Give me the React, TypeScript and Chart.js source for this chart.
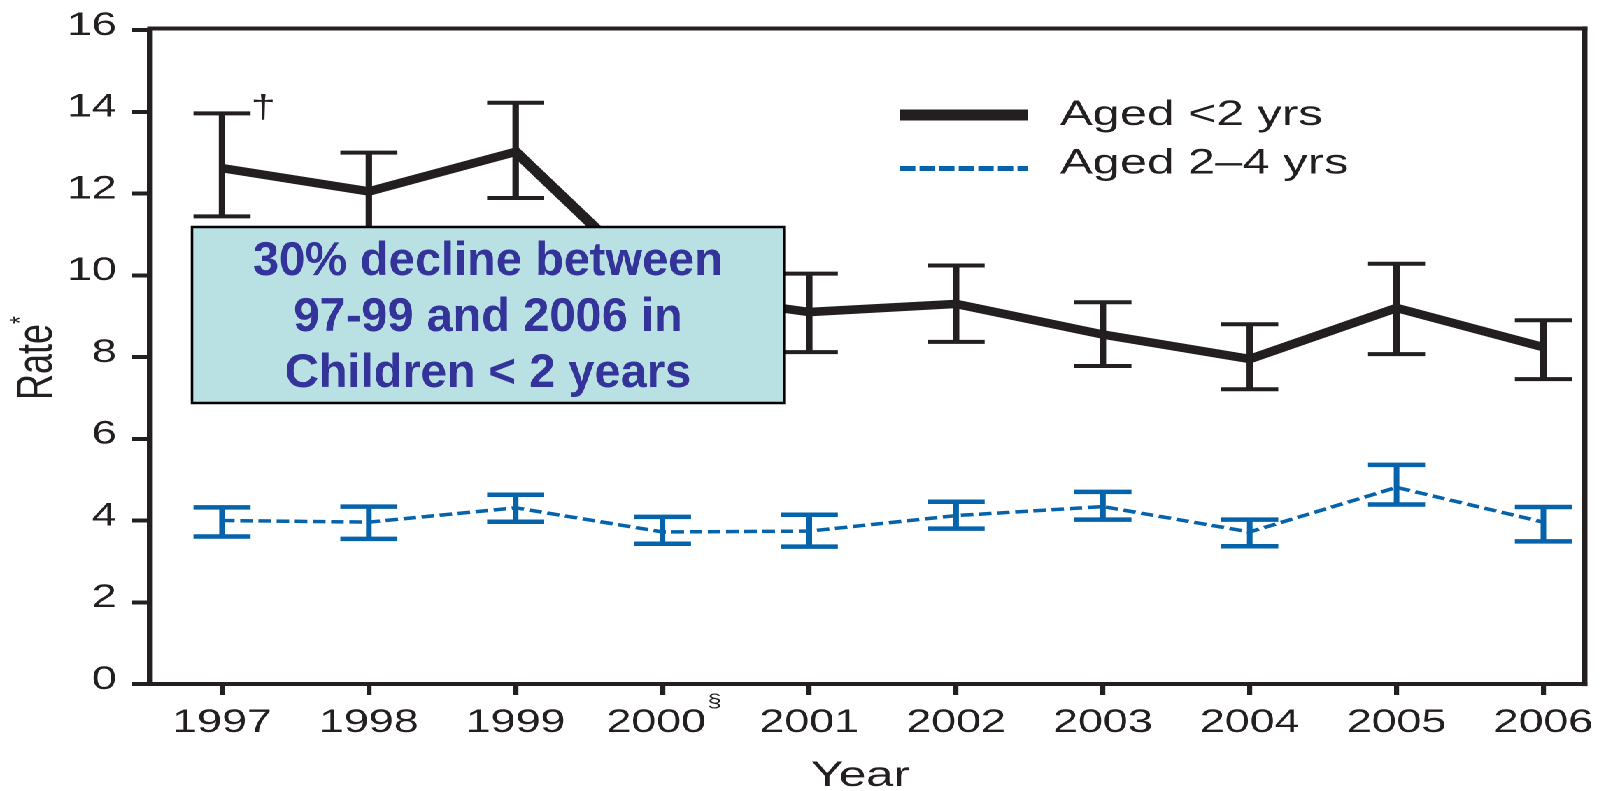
import { useEffect, useRef } from 'react';
import { Chart, registerables } from 'chart.js';

Chart.register(...registerables);

// ---- data ----
const years = [1997, 1998, 1999, 2000, 2001, 2002, 2003, 2004, 2005, 2006];
const xTickLabels = ['1997', '1998', '1999', '2000', '2001', '2002', '2003', '2004', '2005', '2006'];
const xTickMarks = ['', '', '', '§', '', '', '', '', '', ''];
const yTicks = [0, 2, 4, 6, 8, 10, 12, 14, 16];

const under2Label = 'Aged <2 yrs';
const under2Rate = [12.62, 12.05, 13.02, 9.6, 9.1, 9.3, 8.55, 7.95, 9.2, 8.24];
const under2Low = [11.44, 11.15, 11.89, 8.7, 8.12, 8.37, 7.78, 7.21, 8.07, 7.46];
const under2High = [13.96, 13.0, 14.22, 10.5, 10.04, 10.24, 9.34, 8.8, 10.28, 8.9];
const under2Notes = ['†', '', '', '', '', '', '', '', '', ''];

const age2to4Label = 'Aged 2–4 yrs';
const age2to4Rate = [4.0, 3.96, 4.31, 3.72, 3.74, 4.12, 4.34, 3.72, 4.81, 3.96];
const age2to4Low = [3.61, 3.55, 3.97, 3.43, 3.36, 3.8, 4.02, 3.37, 4.39, 3.49];
const age2to4High = [4.32, 4.34, 4.63, 4.09, 4.14, 4.46, 4.7, 4.02, 5.36, 4.33];

const yTitle = 'Rate';
const yTitleMark = '*';
const xTitle = 'Year';
const calloutLines = ['30% decline between', '97-99 and 2006 in', 'Children < 2 years'];

// ---- styling ----
const FONT = '"Liberation Sans", Arial, Helvetica, sans-serif';
const INK = '#231F20';
const BLUE = '#0563AB';
const CANVAS_W = 1148;
const CANVAS_H = 791;
const STRETCH = 1606 / CANVAS_W; // figure is drawn narrow and widened horizontally
const X_MIN = 1996.5094;
const X_MAX = 2006.28;
const CAP_HALF = 20.4;

const figurePlugin = {
  id: 'figureExtras',
  afterDatasetsDraw(chart: any) {
    const { ctx, scales } = chart;
    const x = scales.x;
    const y = scales.y;
    const bars = (lows: number[], highs: number[], color: string, stemW: number, capW: number) => {
      ctx.save();
      ctx.strokeStyle = color;
      ctx.lineCap = 'butt';
      years.forEach((yr, i) => {
        const px = x.getPixelForValue(yr);
        const top = y.getPixelForValue(highs[i]);
        const bot = y.getPixelForValue(lows[i]);
        ctx.lineWidth = stemW;
        ctx.beginPath();
        ctx.moveTo(px, top);
        ctx.lineTo(px, bot);
        ctx.stroke();
        ctx.lineWidth = capW;
        ctx.beginPath();
        ctx.moveTo(px - CAP_HALF, top);
        ctx.lineTo(px + CAP_HALF, top);
        ctx.moveTo(px - CAP_HALF, bot);
        ctx.lineTo(px + CAP_HALF, bot);
        ctx.stroke();
      });
      ctx.restore();
    };
    bars(age2to4Low, age2to4High, BLUE, 4, 4.5);
    bars(under2Low, under2High, INK, 4.6, 4);

    // footnote marks next to error bars
    ctx.save();
    ctx.fillStyle = INK;
    ctx.font = `32px ${FONT}`;
    ctx.textAlign = 'center';
    ctx.textBaseline = 'middle';
    under2Notes.forEach((note, i) => {
      if (!note) return;
      const px = x.getPixelForValue(years[i]) + 29.5;
      const py = y.getPixelForValue(under2High[i]) - 4.5;
      ctx.fillText(note, px, py);
    });
    ctx.restore();
  },
  afterDraw(chart: any) {
    const { ctx, chartArea, scales } = chart;
    const x = scales.x;
    const { left, right, top, bottom } = chartArea;

    // top and right frame
    ctx.save();
    ctx.strokeStyle = INK;
    ctx.lineCap = 'square';
    ctx.lineWidth = 4;
    ctx.beginPath();
    ctx.moveTo(left, top - 1.5);
    ctx.lineTo(right, top - 1.5);
    ctx.stroke();
    ctx.lineWidth = 4.2;
    ctx.beginPath();
    ctx.moveTo(right, top - 1.5);
    ctx.lineTo(right, bottom);
    ctx.stroke();
    ctx.restore();

    // footnote marks on x tick labels
    ctx.save();
    ctx.fillStyle = INK;
    xTickMarks.forEach((mark, i) => {
      if (!mark) return;
      ctx.font = `32px ${FONT}`;
      const wLabel = ctx.measureText(xTickLabels[i]).width;
      const wSpace = ctx.measureText(' ').width;
      const endX = x.getPixelForValue(years[i]) + (wLabel - wSpace) / 2;
      ctx.font = `18px ${FONT}`;
      ctx.textAlign = 'left';
      ctx.textBaseline = 'middle';
      ctx.fillText(mark, endX + 1, 702);
    });
    ctx.restore();

    // axis titles
    ctx.save();
    ctx.fillStyle = INK;
    ctx.font = `35px ${FONT}`;
    ctx.textAlign = 'center';
    ctx.textBaseline = 'alphabetic';
    ctx.fillText(xTitle, (left + right) / 2 - 5, 786);
    ctx.translate(37, 362);
    ctx.rotate(-Math.PI / 2);
    ctx.font = `36px ${FONT}`;
    ctx.fillText(yTitle, 0, 0);
    ctx.font = `20px ${FONT}`;
    ctx.textAlign = 'left';
    ctx.fillText(yTitleMark, 38, -16);
    ctx.restore();

    // legend
    const entries = chart.data.datasets.map((ds: any) => ds);
    const legendY = [115, 168.5];
    const textY = [125, 173.3];
    ctx.save();
    entries.forEach((ds: any, i: number) => {
      ctx.strokeStyle = ds.borderColor;
      ctx.lineWidth = i === 0 ? 11 : 5;
      ctx.setLineDash(i === 0 ? [] : [11, 3]);
      ctx.lineCap = 'butt';
      ctx.beginPath();
      ctx.moveTo(643.3, legendY[i]);
      ctx.lineTo(734.6, legendY[i]);
      ctx.stroke();
      ctx.setLineDash([]);
      ctx.fillStyle = INK;
      ctx.font = `35px ${FONT}`;
      ctx.textAlign = 'left';
      ctx.textBaseline = 'alphabetic';
      ctx.fillText(ds.label, 757.7, textY[i]);
    });
    ctx.restore();

    // callout box (drawn at true proportions)
    ctx.save();
    ctx.scale(1 / STRETCH, 1);
    ctx.fillStyle = '#B9E0E3';
    ctx.fillRect(192, 227, 592, 176);
    ctx.strokeStyle = '#000';
    ctx.lineWidth = 2.5;
    ctx.strokeRect(192, 227, 592, 176);
    ctx.fillStyle = '#333399';
    ctx.font = `bold 47px ${FONT}`;
    ctx.textAlign = 'center';
    ctx.textBaseline = 'alphabetic';
    calloutLines.forEach((line, i) => {
      ctx.fillText(line, 488, 275 + i * 56);
    });
    ctx.restore();
  },
};

export default function App() {
  const canvasRef = useRef<HTMLCanvasElement>(null);

  useEffect(() => {
    const canvas = canvasRef.current;
    if (!canvas) return;
    const chart = new Chart(canvas, {
      type: 'line',
      data: {
        datasets: [
          {
            label: under2Label,
            data: years.map((yr, i) => ({ x: yr, y: under2Rate[i] })),
            borderColor: INK,
            backgroundColor: INK,
            borderWidth: 8.5,
            borderJoinStyle: 'miter',
            borderCapStyle: 'butt',
            pointRadius: 0,
            tension: 0,
            fill: false,
          },
          {
            label: age2to4Label,
            data: years.map((yr, i) => ({ x: yr, y: age2to4Rate[i] })),
            borderColor: BLUE,
            backgroundColor: BLUE,
            borderWidth: 3.5,
            borderDash: [9, 4],
            pointRadius: 0,
            tension: 0,
            fill: false,
          },
        ],
      },
      options: {
        animation: false,
        responsive: false,
        devicePixelRatio: 2,
        layout: {
          padding: { top: 27.5, right: CANVAS_W - 1598 / STRETCH, left: 0, bottom: 0 },
        },
        plugins: {
          legend: { display: false },
          tooltip: { enabled: false },
        },
        scales: {
          x: {
            type: 'linear',
            min: X_MIN,
            max: X_MAX,
            afterBuildTicks: (s: any) => {
              s.ticks = years.map((v) => ({ value: v }));
            },
            afterFit: (s: any) => {
              s.height = CANVAS_H - 684;
            },
            ticks: {
              autoSkip: false,
              maxRotation: 0,
              padding: 9,
              color: INK,
              font: { family: FONT, size: 32 },
              callback: (_v: any, i: number) => xTickLabels[i] + (xTickMarks[i] ? ' ' : ''),
            },
            grid: { drawOnChartArea: false, drawTicks: true, tickLength: 11, lineWidth: 3.6, color: INK },
            border: { display: true, width: 4, color: INK },
          },
          y: {
            type: 'linear',
            min: 0,
            max: 16,
            afterBuildTicks: (s: any) => {
              s.ticks = yTicks.map((v) => ({ value: v }));
            },
            afterFit: (s: any) => {
              s.width = 150 / STRETCH;
            },
            ticks: {
              padding: 10.8,
              labelOffset: -4,
              color: INK,
              font: { family: FONT, size: 32 },
            },
            grid: { drawOnChartArea: false, drawTicks: true, tickLength: 13, lineWidth: 4, color: INK },
            border: { display: true, width: 4.2, color: INK },
          },
        },
      },
      plugins: [figurePlugin],
    } as any);
    return () => chart.destroy();
  }, []);

  return (
    <div
      style={{
        position: 'absolute',
        left: 0,
        top: 0,
        width: CANVAS_W,
        height: CANVAS_H,
        background: '#fff',
        transform: `scaleX(${STRETCH})`,
        transformOrigin: '0 0',
      }}
    >
      <canvas ref={canvasRef} width={CANVAS_W} height={CANVAS_H} />
    </div>
  );
}
